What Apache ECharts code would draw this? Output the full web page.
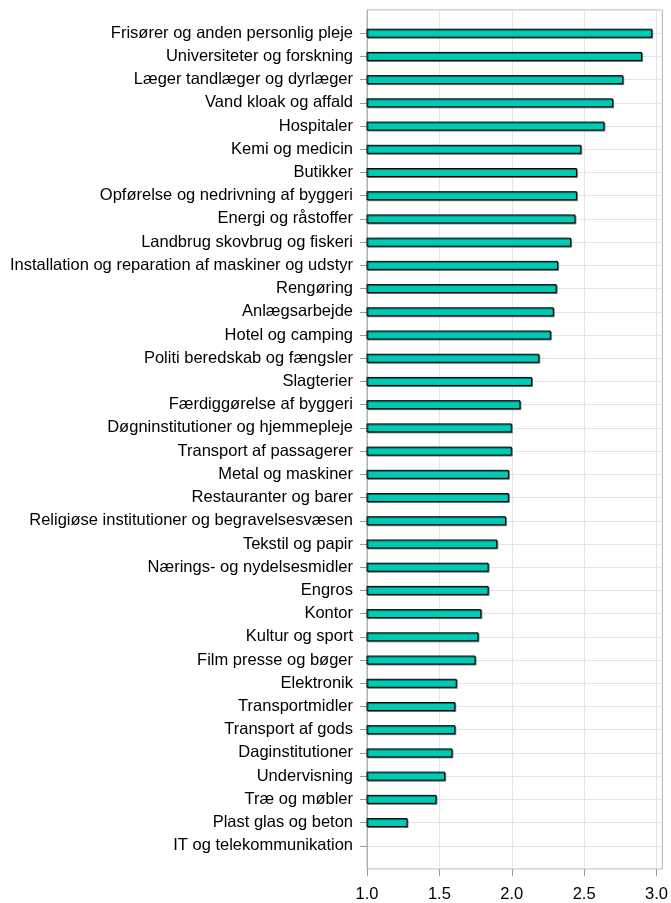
<!DOCTYPE html>
<html>
<head>
<meta charset="utf-8">
<script src="https://cdn.jsdelivr.net/npm/echarts@6/dist/echarts.min.js"></script>
<style>html,body{margin:0;padding:0;background:#fff}#c{width:671px;height:903px}</style>
</head>
<body>
<div id="c"></div>
<script>
const categories = [
  "Frisører og anden personlig pleje",
  "Universiteter og forskning",
  "Læger tandlæger og dyrlæger",
  "Vand kloak og affald",
  "Hospitaler",
  "Kemi og medicin",
  "Butikker",
  "Opførelse og nedrivning af byggeri",
  "Energi og råstoffer",
  "Landbrug skovbrug og fiskeri",
  "Installation og reparation af maskiner og udstyr",
  "Rengøring",
  "Anlægsarbejde",
  "Hotel og camping",
  "Politi beredskab og fængsler",
  "Slagterier",
  "Færdiggørelse af byggeri",
  "Døgninstitutioner og hjemmepleje",
  "Transport af passagerer",
  "Metal og maskiner",
  "Restauranter og barer",
  "Religiøse institutioner og begravelsesvæsen",
  "Tekstil og papir",
  "Nærings- og nydelsesmidler",
  "Engros",
  "Kontor",
  "Kultur og sport",
  "Film presse og bøger",
  "Elektronik",
  "Transportmidler",
  "Transport af gods",
  "Daginstitutioner",
  "Undervisning",
  "Træ og møbler",
  "Plast glas og beton",
  "IT og telekommunikation"
];
const values = [
  2.97, 2.90, 2.77, 2.70, 2.64, 2.48, 2.45, 2.45, 2.44, 2.41,
  2.32, 2.31, 2.29, 2.27, 2.19, 2.14, 2.06, 2.00, 2.00, 1.98,
  1.98, 1.96, 1.90, 1.84, 1.84, 1.79, 1.77, 1.75, 1.62, 1.61,
  1.61, 1.59, 1.54, 1.48, 1.28, null
];
const xTicks = [1.0, 1.5, 2.0, 2.5, 3.0];

// pad one empty slot at each end so categories sit one step inside the frame
const padCats = [" "].concat(categories, ["  "]);
const padVals = [null].concat(values, [null]);

const chart = echarts.init(document.getElementById('c'), null, {renderer: 'canvas'});
const font = "'Liberation Sans', Arial, sans-serif";
chart.setOption({
  animation: false,
  grid: {
    left: 367, right: 8, top: 10, bottom: 33,
    show: true, borderColor: '#b0b0b0', borderWidth: 1, backgroundColor: '#fff'
  },
  xAxis: {
    type: 'value', min: 1, max: 3.04, interval: 0.5,
    axisLine: {show: false},
    axisTick: {show: true, customValues: xTicks, length: 7, lineStyle: {color: '#999'}},
    axisLabel: {customValues: xTicks, formatter: v => v.toFixed(1), color: '#000', fontSize: 16.5, fontFamily: font, margin: 17},
    splitLine: {show: true, lineStyle: {color: '#e5e5e5', width: 1}}
  },
  yAxis: {
    type: 'category', data: padCats, inverse: true, boundaryGap: false,
    axisLine: {show: true, lineStyle: {color: '#b0b0b0'}},
    axisTick: {show: true, length: 7, interval: (i) => i > 0 && i < padCats.length - 1, lineStyle: {color: '#999'}},
    axisLabel: {interval: 0, color: '#000', fontSize: 16.5, fontFamily: font, margin: 14},
    splitLine: {show: true, interval: 0, lineStyle: {color: '#e5e5e5', width: 1}}
  },
  series: [{
    type: 'bar', data: padVals, barWidth: 9,
    itemStyle: {
      color: '#00C9B4', borderColor: '#000', borderWidth: 1,
      shadowColor: 'rgba(0,0,0,0.45)', shadowOffsetX: 1, shadowOffsetY: 1, shadowBlur: 0
    }
  }]
});
</script>
</body>
</html>
